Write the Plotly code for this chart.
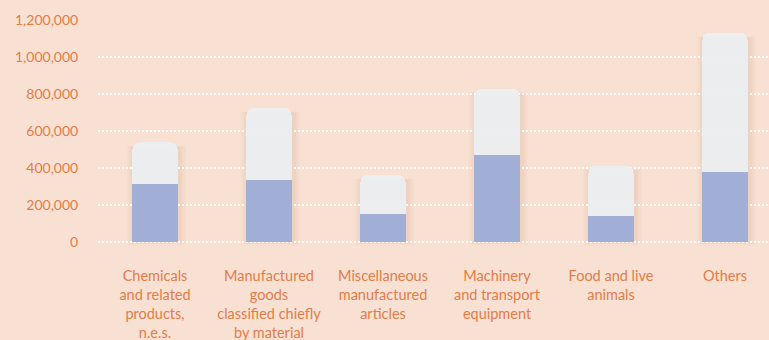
import plotly.graph_objects as go

# Product groups and the two stacked components (values in the chart's units)
categories = [
    "Chemicals<br>and related<br>products,<br>n.e.s.",
    "Manufactured<br>goods<br>classified chiefly<br>by material",
    "Miscellaneous<br>manufactured<br>articles",
    "Machinery<br>and transport<br>equipment",
    "Food and live<br>animals",
    "Others",
]
lower_values = [310000, 335000, 150000, 469000, 141000, 375000]
upper_values = [227000, 388000, 210000, 360000, 270000, 755000]
y_ticks = [0, 200000, 400000, 600000, 800000, 1000000, 1200000]
y_tick_text = ["0", "200,000", "400,000", "600,000", "800,000", "1,000,000", "1,200,000"]

BG = "#F8E1D2"
ORANGE = "#E27C49"
BLUE = "#9DADD9"
LIGHT = "#ECEFF1"
BAR_W = 0.395

x = list(range(len(categories)))
totals = [a + b for a, b in zip(lower_values, upper_values)]

fig = go.Figure()
fig.add_trace(go.Bar(
    x=x, y=lower_values, width=BAR_W,
    marker=dict(color=BLUE, line=dict(width=0)), opacity=0.94,
    hoverinfo="skip", showlegend=False,
))
fig.add_trace(go.Bar(
    x=x, y=upper_values, width=BAR_W,
    marker=dict(color=LIGHT, line=dict(width=0)), opacity=0.95,
    hoverinfo="skip", showlegend=False,
))

# soft drop shadow behind each stacked column
shapes = []
for xi, tot in zip(x, totals):
    for k in range(1, 6):
        dx = 0.012 * k
        dy = 5500 * k
        shapes.append(dict(
            type="rect", xref="x", yref="y", layer="below",
            x0=xi - BAR_W / 2 - dx + 0.01, x1=xi + BAR_W / 2 + dx + 0.015,
            y0=-dy * 0.7, y1=tot - 25000 + dy * 0.2,
            fillcolor="rgba(190,140,110,0.035)", line=dict(width=0),
        ))

fig.update_layout(
    width=769, height=340,
    margin=dict(l=98, r=0, t=20, b=91),
    paper_bgcolor=BG, plot_bgcolor=BG,
    barmode="stack", barcornerradius=7,
    shapes=shapes,
    font=dict(family="Lato, sans-serif", color=ORANGE, size=14),
    xaxis=dict(
        range=[-0.5, 5.386], tickvals=x, ticktext=categories,
        showgrid=False, zeroline=False, showline=False,
        ticks="outside", ticklen=14, tickcolor="rgba(0,0,0,0)",
        tickfont=dict(size=14.5, color=ORANGE),
        fixedrange=True,
    ),
    yaxis=dict(
        range=[-40000, 1200000], tickvals=y_ticks, ticktext=y_tick_text,
        showgrid=True, gridcolor="rgba(255,255,255,0.95)", gridwidth=1.5,
        griddash="2px,2px", zeroline=False, showline=False,
        ticks="outside", ticklen=16, tickcolor="rgba(0,0,0,0)",
        tickfont=dict(size=14, color=ORANGE),
        fixedrange=True,
    ),
)

fig.write_html("out.html")
